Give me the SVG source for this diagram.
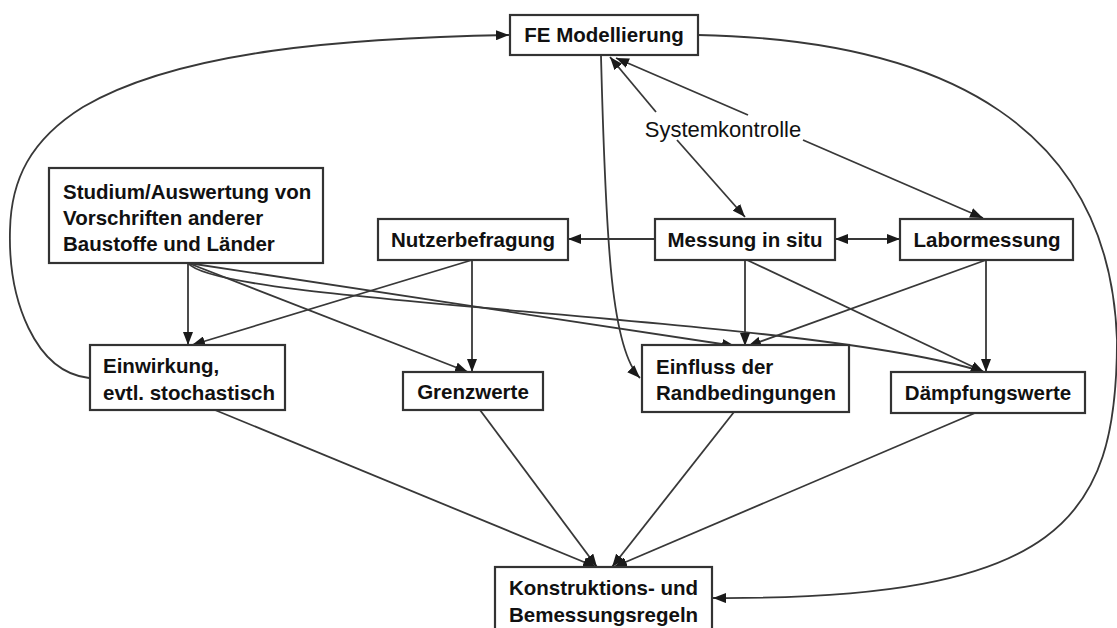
<svg xmlns="http://www.w3.org/2000/svg" width="1117" height="628" viewBox="0 0 1117 628">
<style>
.box{fill:#fff;stroke:#333;stroke-width:2.2}
.t{font-family:"Liberation Sans",Arial,sans-serif;font-size:20.5px;font-weight:bold;fill:#111}
.c{text-anchor:middle}
.lbl{font-family:"Liberation Sans",Arial,sans-serif;font-size:22px;fill:#111;text-anchor:middle}
.e{fill:none;stroke:#383838;stroke-width:1.8}
.a{marker-end:url(#ah)}
.s{marker-start:url(#ah)}
</style>
<defs>
<marker id="ah" viewBox="0 0 13 10" refX="13" refY="5" markerWidth="13" markerHeight="10" markerUnits="userSpaceOnUse" orient="auto-start-reverse"><path d="M0,0 L13,5 L0,10 z" fill="#1a1a1a"/></marker>
</defs>
<rect width="1117" height="628" fill="#fff"/>
<g id="connectors">
<path class="e a" d="M89,378 C35,372 8,300 10,230 C11,180 30,140 83,107 C180,50 350,38 509,35"/>
<path class="e a" d="M698,35 C950,40 1110,130 1117,340 C1117,520 1060,600 713,598"/>
<path class="e a" d="M601,56 C606,250 612,350 640,378"/>
<path class="e s" d="M610,57 L656,112"/>
<path class="e a" d="M677,140 L745,217"/>
<path class="e s" d="M616,58 L748,115"/>
<path class="e a" d="M803,140 L983,218"/>
<path class="e a" d="M655,239 L568,239"/>
<path class="e a s" d="M835,239 L900,239"/>
<path class="e a" d="M188,263 L188,345"/>
<path class="e a" d="M188,263 L468,372"/>
<path class="e a" d="M188,263 L735,346"/>
<path class="e a" d="M188,263 C220,305 800,315 984,372"/>
<path class="e a" d="M472,260 L192,345"/>
<path class="e a" d="M472,260 L472,372"/>
<path class="e a" d="M745,260 L745,346"/>
<path class="e a" d="M747,260 L984,372"/>
<path class="e a" d="M986,260 L748,346"/>
<path class="e a" d="M986,260 L986,372"/>
<path class="e a" d="M215,410 L596,567"/>
<path class="e a" d="M480,410 L597,567"/>
<path class="e a" d="M734,412 L612,567"/>
<path class="e a" d="M975,413 L614,567"/>
<text class="lbl" x="723" y="137">Systemkontrolle</text>
</g>
<g id="fe"><rect class="box" x="510" y="15" width="188" height="40"/><text class="t c" x="604" y="42">FE Modellierung</text></g>
<g id="studium"><rect class="box" x="49" y="168" width="274" height="95"/><text class="t" x="63" y="199">Studium/Auswertung von</text><text class="t" x="63" y="225">Vorschriften anderer</text><text class="t" x="63" y="251">Baustoffe und Länder</text></g>
<g id="nutzer"><rect class="box" x="378" y="219" width="190" height="41"/><text class="t c" x="473" y="247">Nutzerbefragung</text></g>
<g id="messung"><rect class="box" x="655" y="219" width="180" height="41"/><text class="t c" x="745" y="247">Messung in situ</text></g>
<g id="labor"><rect class="box" x="900" y="219" width="173" height="41"/><text class="t c" x="987" y="247">Labormessung</text></g>
<g id="einwirkung"><rect class="box" x="90" y="345" width="195" height="65"/><text class="t" x="103" y="373">Einwirkung,</text><text class="t" x="103" y="400">evtl. stochastisch</text></g>
<g id="grenzwerte"><rect class="box" x="403" y="372" width="140" height="38"/><text class="t c" x="473" y="399">Grenzwerte</text></g>
<g id="einfluss"><rect class="box" x="642" y="345" width="207" height="67"/><text class="t" x="656" y="374">Einfluss der</text><text class="t" x="656" y="400">Randbedingungen</text></g>
<g id="daempfung"><rect class="box" x="891" y="372" width="194" height="41"/><text class="t c" x="988" y="400">Dämpfungswerte</text></g>
<g id="konstruktion"><rect class="box" x="495" y="567" width="217" height="70"/><text class="t" x="509" y="595">Konstruktions- und</text><text class="t" x="509" y="622">Bemessungsregeln</text></g>
</svg>
